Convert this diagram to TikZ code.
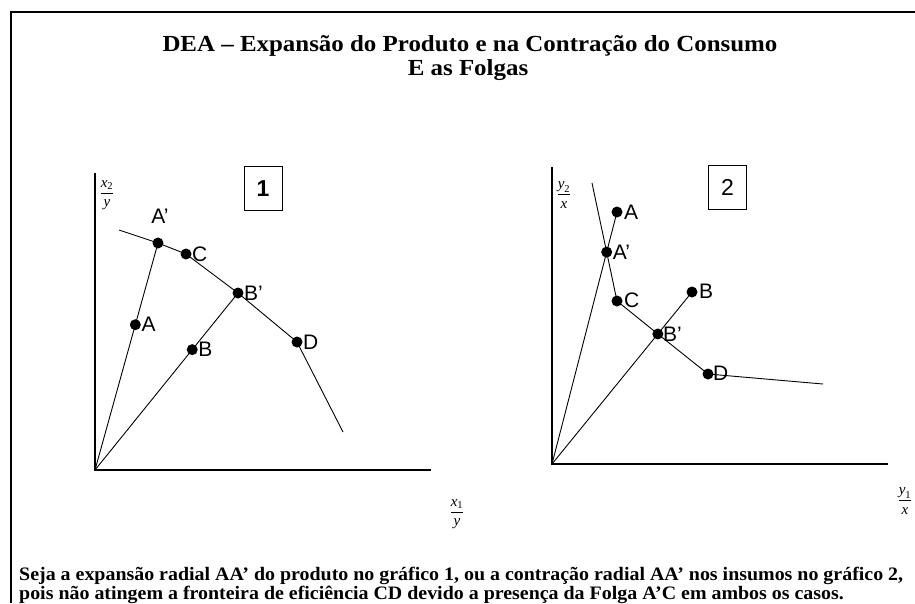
\documentclass[tikz,border=0pt]{standalone}
\usepackage{amsmath}
\usepackage{fontspec}
\setmainfont{Liberation Serif}
\setsansfont{Liberation Sans}
\usetikzlibrary{calc}
\newcommand{\tlA}{DEA – Expansão do Produto e na Contração do Consumo}
\newcommand{\tlB}{E as Folgas}
\newcommand{\blA}{Seja a expansão radial AA’ do produto no gráfico 1, ou a contração radial AA’ nos insumos no gráfico 2,}
\newcommand{\blB}{pois não atingem a fronteira de eficiência CD devido a presença da Folga A’C em ambos os casos.}
\newcommand{\tfont}{\fontsize{23}{26}\selectfont\bfseries}
\newcommand{\bfont}{\fontsize{19}{21}\selectfont\bfseries}
\newlength\wTA \newlength\wBA
\begin{document}
\settowidth\wTA{\tfont\tlA}
\settowidth\wBA{\bfont\blA}
\pgfmathsetmacro\sxT{615/\wTA}
\pgfmathsetmacro\sxB{884/\wBA}
\begin{tikzpicture}[x=1pt,y=-1pt,
  dot/.style={circle,fill=black,inner sep=0pt,minimum size=11pt},
  lab/.style={font=\sffamily\fontsize{21}{23}\selectfont,inner sep=0pt},
  numbox/.style={draw,line width=1pt,minimum width=38pt,minimum height=44pt,inner sep=0pt,font=\sffamily\fontsize{23}{25}\selectfont},
  axis/.style={line width=1.3pt},
  seg/.style={line width=0.9pt},
  frac/.style={inner sep=0pt,font=\fontsize{15}{17}\selectfont}]
\useasboundingbox (0,0) rectangle (915,603);
% frame
\draw[line width=1.5pt] (11,603) -- (11,12) -- (915,12);
% title
\node[inner sep=0pt,anchor=base] (t1) at (470,51) {\scalebox{\sxT}[1.0]{\tfont\tlA}};
\node[inner sep=0pt,anchor=base] (t2) at (468,75) {\scalebox{\sxT}[1.0]{\tfont\tlB}};
% bottom text
\node[inner sep=0pt,anchor=base west] (b1) at (19,580) {\scalebox{\sxB}[1.0]{\bfont\blA}};
\node[inner sep=0pt,anchor=base west] (b2) at (19,599) {\scalebox{\sxB}[1.0]{\bfont\blB}};

% ===== Graph 1 =====
\coordinate (O1) at (95,470);
\coordinate (Y1) at (95,173);
\coordinate (X1) at (431,470);
\coordinate (F1s) at (119,230);
\coordinate (F1e) at (343,432);
\node[dot] (Ap1) at (158,243) {};
\node[dot] (C1) at (186,254) {};
\node[dot] (Bp1) at (238,293) {};
\node[dot] (D1) at (297,342) {};
\node[dot] (A1) at ($(O1)!0.64!(Ap1)$) {};
\node[dot] (B1) at ($(O1)!0.68!(Bp1)$) {};
\draw[axis] (Y1) -- (O1) -- (X1);
\draw[seg] (F1s) -- (Ap1.center) -- (C1.center) -- (Bp1.center) -- (D1.center) -- (F1e);
\draw[seg] (O1) -- (Ap1.center);
\draw[seg] (O1) -- (Bp1.center);
\node[lab,anchor=south] (lAp1) at (160,224) {A’};
\node[lab,anchor=west] (lC1) at (192,254) {C};
\node[lab,anchor=west] (lBp1) at (244,293) {B’};
\node[lab,anchor=west] (lA1) at ($(A1)+(6,0)$) {A};
\node[lab,anchor=west] (lB1) at ($(B1)+(6,0)$) {B};
\node[lab,anchor=west] (lD1) at (303,342) {D};
\node[numbox] (n1) at (263,188.5) {\bfseries 1};
\node[frac] (fy1) at (107,195) {$\dfrac{\textit{x}_{\textrm{2}}}{\textit{y}}$};
\node[frac] (fx1) at (457,514) {$\dfrac{\textit{x}_{\textrm{1}}}{\textit{y}}$};

% ===== Graph 2 =====
\coordinate (O2) at (552,464);
\coordinate (Y2) at (552,167);
\coordinate (X2) at (888,464);
\coordinate (F2s) at (592,183);
\coordinate (F2e) at (823,384);
\node[dot] (A2) at (617,212) {};
\node[dot] (C2) at (617,301) {};
\node[dot] (B2) at (692,292) {};
\node[dot] (D2) at (708,374) {};
\node[dot] (Ap2) at ($(O2)!0.841!(A2)$) {};
\node[dot] (Bp2) at ($(O2)!0.756!(B2)$) {};
\draw[axis] (Y2) -- (O2) -- (X2);
\draw[seg] (F2s) -- (Ap2.center) -- (C2.center) -- (Bp2.center) -- (D2.center) -- (F2e);
\draw[seg] (O2) -- (A2.center);
\draw[seg] (O2) -- (B2.center);
\node[lab,anchor=west] (lA2) at (624,212) {A};
\node[lab,anchor=west] (lAp2) at ($(Ap2)+(6,0)$) {A’};
\node[lab,anchor=west] (lC2) at (624,300) {C};
\node[lab,anchor=west] (lB2) at (699,291) {B};
\node[lab,anchor=west] (lBp2) at ($(Bp2)+(5,0)$) {B’};
\node[lab,anchor=west] (lD2) at (713,373) {D};
\node[numbox] (n2) at (727.5,187.5) {2};
\node[frac] (fy2) at (564,195) {$\dfrac{\textit{y}_{\textrm{2}}}{\textit{x}}$};
\node[frac] (fx2) at (905,501) {$\dfrac{\textit{y}_{\textrm{1}}}{\textit{x}}$};
\end{tikzpicture}
\end{document}
